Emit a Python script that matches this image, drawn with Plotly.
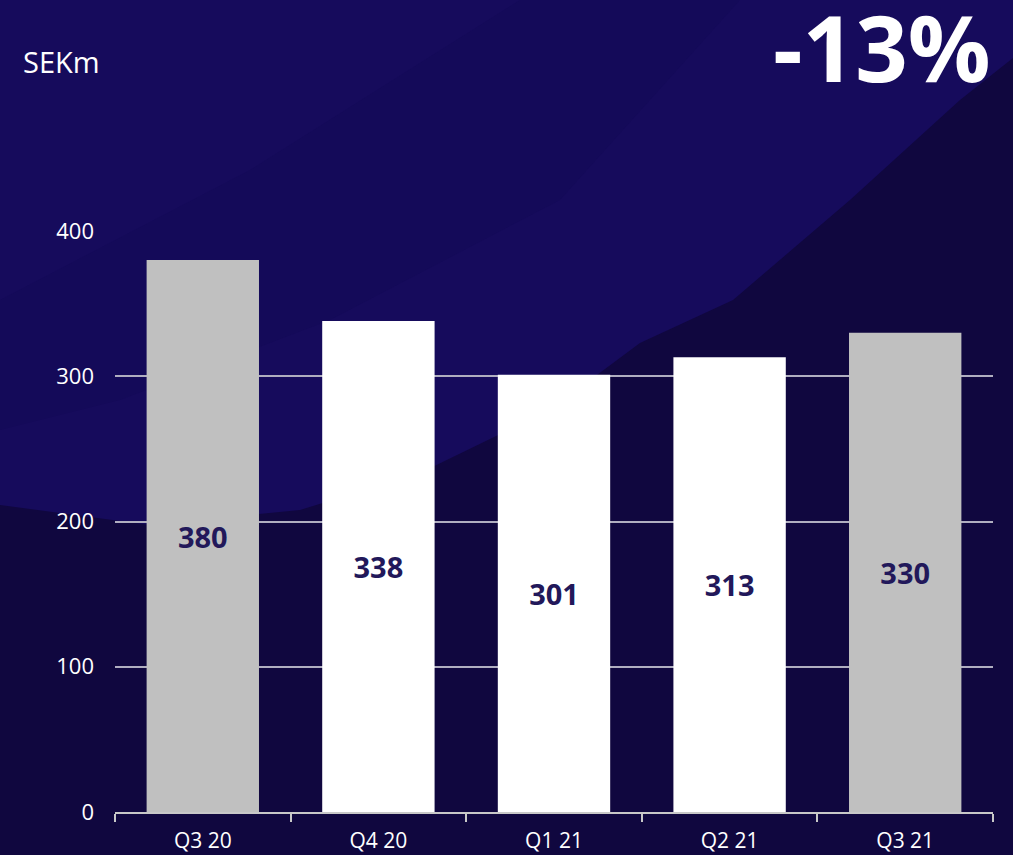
import plotly.graph_objects as go

quarters = ["Q3 20", "Q4 20", "Q1 21", "Q2 21", "Q3 21"]
values = [380, 338, 301, 313, 330]
bar_colors = ["#c0c0c0", "#ffffff", "#ffffff", "#ffffff", "#c0c0c0"]
y_ticks = [0, 100, 200, 300, 400]
unit_label = "SEKm"
change_label = "-13%"

W, H = 1013, 855
L, R, T, B = 115, 20, 231, 43
PW, PH = W - L - R, H - T - B


def px(x, y):
    return (x - L) / PW, (H - B - y) / PH


def path(points):
    pts = [px(x, y) for x, y in points]
    return "M " + " L ".join(f"{a:.4f},{b:.4f}" for a, b in pts) + " Z"


fig = go.Figure()
fig.add_trace(go.Bar(
    x=quarters, y=values,
    marker=dict(color=bar_colors, line=dict(width=0)),
    text=[str(v) for v in values],
    textposition="inside", insidetextanchor="middle",
    textfont=dict(family="Open Sans", size=29, color="#22185a", weight="bold"),
    hoverinfo="skip",
))

shapes = [
    dict(type="path", xref="paper", yref="paper", layer="below",
         path=path([(0, 0), (W, 0), (W, H), (0, H)]),
         fillcolor="#160b5c", line=dict(width=0)),
    # very subtle darker diagonal strip in upper area
    dict(type="path", xref="paper", yref="paper", layer="below",
         path=path([(520, 0), (740, 0), (560, 200), (330, 320), (120, 400), (0, 430), (0, 300), (250, 170)]),
         fillcolor="#120852", opacity=0.35, line=dict(width=0)),
    # darker lower region under wave
    dict(type="path", xref="paper", yref="paper", layer="below",
         path=path([(0, 505), (150, 525), (300, 510), (420, 473), (550, 410), (640, 343),
                    (733, 300), (850, 200), (960, 100), (W, 58), (W, H), (0, H)]),
         fillcolor="#10073f", line=dict(width=0)),
]

ax, ay = px(W - 20, 47)
sx, sy = px(21, 61)
annotations = [
    dict(text=change_label, xref="paper", yref="paper", x=ax, y=ay,
         xanchor="right", yanchor="middle", showarrow=False,
         font=dict(family="Open Sans", size=92, color="#ffffff", weight="bold")),
    dict(text=unit_label, xref="paper", yref="paper", x=sx, y=sy,
         xanchor="left", yanchor="middle", showarrow=False,
         font=dict(family="Open Sans", size=29, color="#ffffff")),
]

fig.update_layout(
    width=W, height=H,
    margin=dict(l=L, r=R, t=T, b=B, autoexpand=False),
    paper_bgcolor="#10073f",
    plot_bgcolor="rgba(0,0,0,0)",
    showlegend=False,
    bargap=0.36,
    shapes=shapes,
    annotations=annotations,
    font=dict(family="Open Sans", color="#ffffff"),
    xaxis=dict(
        showgrid=False, showline=True, linecolor="#c8c8c8", linewidth=2,
        ticks="outside", tickson="boundaries", ticklen=8, tickcolor="#c8c8c8", tickwidth=2,
        tickfont=dict(size=21, color="#ffffff"), ticklabelstandoff=9, fixedrange=True,
        automargin=False,
    ),
    yaxis=dict(
        range=[0, 400], tickvals=y_ticks, showgrid=True, gridcolor="#b0aec0", gridwidth=1.5,
        zeroline=False, showline=False, ticks="",
        tickfont=dict(size=22, color="#ffffff"), ticklabelstandoff=20, fixedrange=True,
        automargin=False,
    ),
)

fig.write_html("out.html")
